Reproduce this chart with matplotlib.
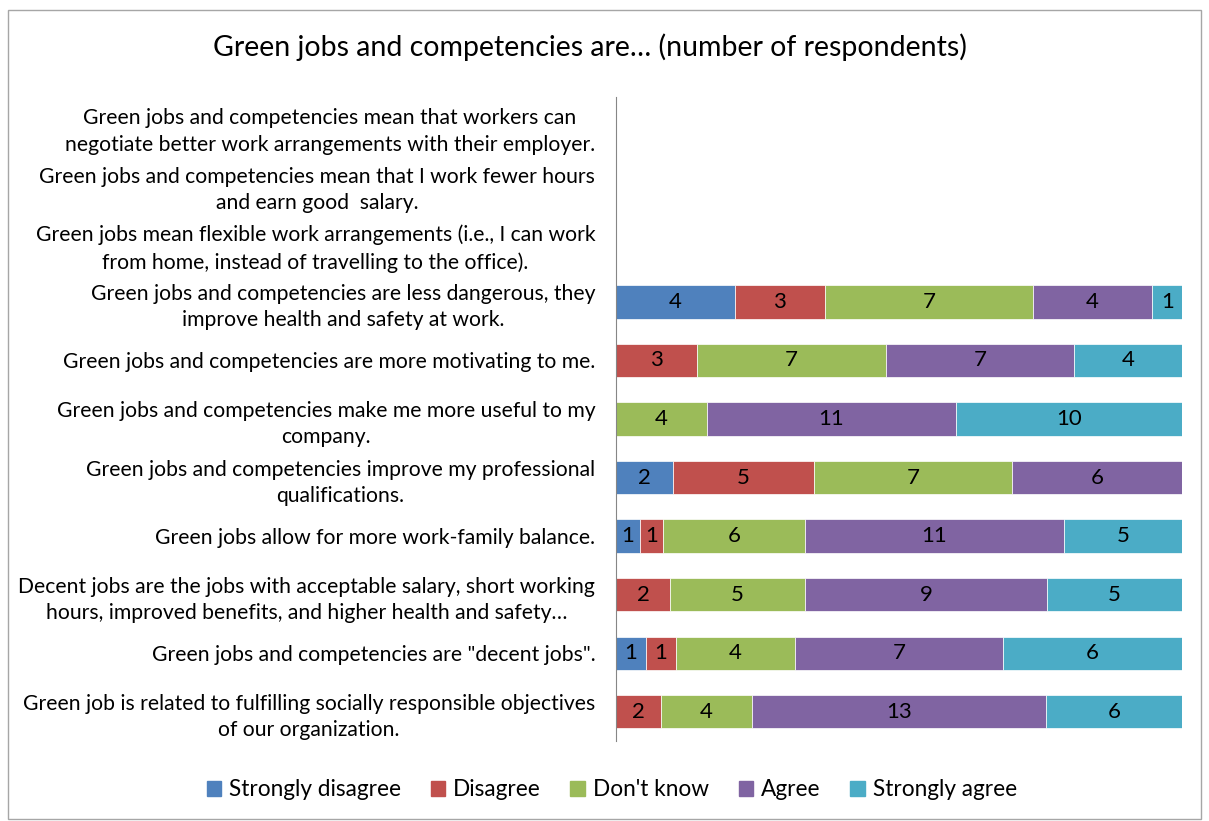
import matplotlib
matplotlib.use("Agg")
import matplotlib.pyplot as plt
import numpy as np
from matplotlib.patches import Rectangle

categories = [
    "Green jobs and competencies mean that workers can\nnegotiate better work arrangements with their employer.",
    "Green jobs and competencies mean that I work fewer hours\nand earn good  salary.",
    "Green jobs mean flexible work arrangements (i.e., I can work\nfrom home, instead of travelling to the office).",
    "Green jobs and competencies are less dangerous, they\nimprove health and safety at work.",
    "Green jobs and competencies are more motivating to me.",
    "Green jobs and competencies make me more useful to my\ncompany.",
    "Green jobs and competencies improve my professional\nqualifications.",
    "Green jobs allow for more work-family balance.",
    "Decent jobs are the jobs with acceptable salary, short working\nhours, improved benefits, and higher health and safety…",
    "Green jobs and competencies are \"decent jobs\".",
    "Green job is related to fulfilling socially responsible objectives\nof our organization.",
]
series_names = ["Strongly disagree", "Disagree", "Don't know", "Agree", "Strongly agree"]
strongly_disagree = [0, 0, 0, 4, 0, 0, 2, 1, 0, 1, 0]
disagree          = [0, 0, 0, 3, 3, 0, 5, 1, 2, 1, 2]
dont_know         = [0, 0, 0, 7, 7, 4, 7, 6, 5, 4, 4]
agree             = [0, 0, 0, 4, 7, 11, 6, 11, 9, 7, 13]
strongly_agree    = [0, 0, 0, 1, 4, 10, 0, 5, 5, 6, 6]
colors = ["#4F81BD", "#C0504D", "#9BBB59", "#8064A2", "#4BACC6"]

font = ["Lato", "DejaVu Sans"]
plt.rcParams['font.family'] = font

fig = plt.figure(figsize=(12.09, 8.21), dpi=100)
fig.patches.append(Rectangle((0.007, 0.003), 0.986, 0.985, transform=fig.transFigure,
                             fill=False, edgecolor="#A6A6A6", linewidth=1.0))
ax = fig.add_axes([0.5095, 0.0974, 0.4682, 0.7845])

data = np.array([strongly_disagree, disagree, dont_know, agree, strongly_agree], dtype=float)
totals = data.sum(axis=0)
safe = np.where(totals == 0, 1, totals)
pct = data / safe
y = np.arange(len(categories))
left = np.zeros(len(categories))
for i, name in enumerate(series_names):
    mask = data[i] > 0
    bars = ax.barh(y[mask], pct[i][mask], left=left[mask], height=0.57,
                   color=colors[i], label=name, edgecolor="white", linewidth=0.5)
    for b, v in zip(bars, data[i][mask]):
        ax.text(b.get_x() + b.get_width() / 2, b.get_y() + b.get_height() / 2,
                f"{int(v)}", ha="center", va="center", fontsize=16, color="black")
    left = left + pct[i]

ax.set_xlim(0, 1)
ax.set_ylim(len(categories) - 0.5, -0.5)
ax.set_yticks(y)
ax.set_yticklabels(categories, fontsize=15.2, multialignment="center", linespacing=1.4)
ax.tick_params(axis="y", length=0, pad=15)
ax.set_xticks([])
for s in ["top", "right", "bottom"]:
    ax.spines[s].set_visible(False)
ax.spines["left"].set_color("#868686")

fig.text(0.488, 0.942, "Green jobs and competencies are… (number of respondents)",
         ha="center", va="center", fontsize=20.5)

handles = [Rectangle((0, 0), 1, 1, color=c) for c in colors]
fig.legend(handles, series_names, loc="center", bbox_to_anchor=(0.506, 0.038), ncol=5,
           frameon=False, fontsize=16.3, handlelength=0.65, handleheight=0.65,
           columnspacing=1.3, handletextpad=0.35)

fig.savefig("out.png", dpi=100)
